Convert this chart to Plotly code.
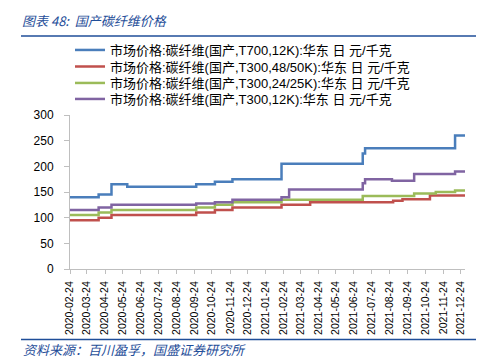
import plotly.graph_objects as go

dates = ["2020-02-24", "2020-04-13", "2020-05-05", "2020-06-01", "2020-09-27",
         "2020-10-29", "2020-11-28", "2021-02-20", "2021-03-05", "2021-04-10",
         "2021-07-09", "2021-07-13", "2021-08-28", "2021-08-30", "2021-09-15",
         "2021-10-05", "2021-11-01", "2021-11-11", "2021-12-14", "2021-12-31"]

t700_12k = [140, 145, 165, 160, 165, 170, 175, 205, 205, 205,
            225, 235, 235, 235, 235, 235, 235, 235, 260, 260]
t300_48k = [95, 100, 105, 105, 110, 115, 120, 125, 125, 130,
            130, 130, 130, 133, 136, 136, 143, 143, 143, 143]
t300_24k = [105, 110, 115, 115, 120, 125, 130, 135, 135, 135,
            142, 142, 142, 142, 142, 147, 147, 150, 153, 153]
t300_12k = [115, 120, 125, 125, 127.5, 130, 135, 140, 155, 155,
            167, 175, 172, 172, 172, 185, 185, 185, 190, 190]

names = ["市场价格:碳纤维(国产,T700,12K):华东 日 元/千克",
         "市场价格:碳纤维(国产,T300,48/50K):华东 日 元/千克",
         "市场价格:碳纤维(国产,T300,24/25K):华东 日 元/千克",
         "市场价格:碳纤维(国产,T300,12K):华东 日 元/千克"]
colors = ["#4A7EBB", "#C0504D", "#9BBB59", "#8064A2"]
series = [t700_12k, t300_48k, t300_24k, t300_12k]

FONT = "Liberation Sans, Noto Sans CJK SC, sans-serif"

W, H = 484, 362
L, R, T, B = 62, 27, 107, 101
pw, ph = W - L - R, H - T - B

def px(x):
    return (x - L) / pw

def py(y):
    return (H - B - y) / ph

legend_ids = ["legend", "legend2", "legend3", "legend4"]
legend_rows = [42, 58.5, 75, 91]

fig = go.Figure()
for nm, col, ys, lid in zip(names, colors, series, legend_ids):
    fig.add_trace(go.Scatter(x=dates, y=ys, name=nm, mode="lines", legend=lid,
                             line=dict(color=col, width=2.5, shape="hv")))

legend_layout = {}
for lid, yc in zip(legend_ids, legend_rows):
    legend_layout[lid] = dict(xref="paper", yref="container",
                              x=0, y=1 - yc / H,
                              xanchor="left", yanchor="middle",
                              font=dict(size=13, family=FONT, color="black"),
                              bgcolor="rgba(0,0,0,0)", itemwidth=30)

fig.update_layout(
    width=W, height=H,
    margin=dict(l=L, r=R, t=T, b=B, autoexpand=False),
    plot_bgcolor="white", paper_bgcolor="white",
    font=dict(family=FONT, size=12, color="black"),
    showlegend=True,
    xaxis=dict(type="date", range=["2020-02-24", "2021-12-31"],
               tick0="2020-02-24", dtick="M1", tickformat="%Y-%m-%d",
               tickangle=-90, ticks="outside", ticklen=4, tickcolor="#BFBFBF",
               showline=True, linecolor="#BFBFBF", linewidth=1,
               showgrid=False, zeroline=False, ticklabelstandoff=3,
               tickfont=dict(size=10.5, family=FONT)),
    yaxis=dict(range=[0, 300], dtick=50, ticks="outside", ticklen=5,
               tickcolor="#BFBFBF", showline=True, linecolor="#BFBFBF",
               linewidth=1, showgrid=False, zeroline=False,
               ticklabelstandoff=8,
               tickfont=dict(size=12, family=FONT)),
    shapes=[
        dict(type="line", xref="paper", yref="paper", x0=px(13), x1=px(484),
             y0=py(28), y1=py(28), line=dict(color="#1F4E99", width=1.5)),
        dict(type="line", xref="paper", yref="paper", x0=px(13), x1=px(484),
             y0=py(331.5), y1=py(331.5), line=dict(color="#1F4E99", width=1.5)),
    ],
    annotations=[
        dict(xref="paper", yref="paper", x=px(12), y=py(13), xanchor="left",
             yanchor="middle", showarrow=False, align="left",
             text="图表 48:  国产碳纤维价格",
             font=dict(family="Noto Sans CJK SC", size=13, color="#1F4E99",
                       style="italic")),
        dict(xref="paper", yref="paper", x=px(13), y=py(341), xanchor="left",
             yanchor="middle", showarrow=False, align="left",
             text="资料来源：百川盈孚，国盛证券研究所",
             font=dict(family="Noto Sans CJK SC", size=13, color="#1F4E99",
                       style="italic")),
    ],
    **legend_layout,
)

fig.write_html("out.html")
